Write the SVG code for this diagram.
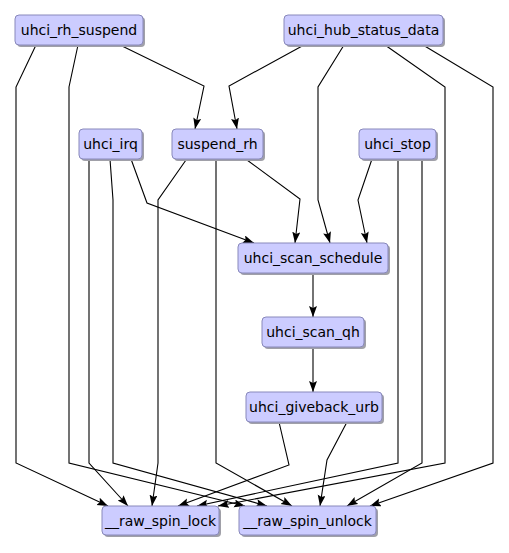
<svg xmlns="http://www.w3.org/2000/svg" width="509" height="553" viewBox="0 0 509 553">
<defs>
<style>
.sh{fill:#a0a0a8;stroke:none}
.bx{fill:#ccccff;stroke:#8888bb;stroke-width:1}
.t{font-family:"DejaVu Sans",sans-serif;font-size:14px;fill:#000;text-anchor:middle}
.e{fill:none;stroke:#000;stroke-width:1.1}
.a{marker-end:url(#ah)}
</style>
<marker id="ah" markerUnits="userSpaceOnUse" markerWidth="12" markerHeight="10" refX="11" refY="4" orient="auto">
<polygon points="0,0 11,4 0,8 2,4" fill="#000"/>
</marker>
</defs>
<rect width="509" height="553" fill="#fff"/>
<g id="connectors">
<polyline class="e a" points="36,45 16,87 16,463 108,506"/>
<polyline class="e a" points="78,45 69,87 69,463 245,506"/>
<polyline class="e a" points="120,45 204,86 195,129"/>
<polyline class="e a" points="304,45 229,86 237,129"/>
<polyline class="e a" points="344,45 318,87 318,200 330,243"/>
<polyline class="e a" points="385,45 445,87 445,463 218,506"/>
<polyline class="e a" points="423,45 493,87 493,463 370,506"/>
<polyline class="e a" points="89,159 89,463 128,506"/>
<polyline class="e a" points="110,159 113,200 113,463 267,506"/>
<polyline class="e a" points="131,159 147,203 254,243"/>
<polyline class="e a" points="186,160 158,200 158,463 152,506"/>
<polyline class="e a" points="216,160 216,463 292,506"/>
<polyline class="e a" points="247,160 300,199 295,243"/>
<polyline class="e a" points="372,159 358,200 367,243"/>
<polyline class="e a" points="398,159 398,463 197,506"/>
<polyline class="e a" points="422,159 422,463 347,506"/>
<polyline class="e a" points="313,273 313,317"/>
<polyline class="e a" points="313,347 313,392"/>
<polyline class="e a" points="279,422 289,465 178,506"/>
<polyline class="e a" points="347,422 327,460 320,506"/>
</g>
<g id="uhci_rh_suspend">
<rect class="sh" x="17" y="17" width="128" height="30" rx="4"/>
<rect class="bx" x="15" y="15" width="128" height="30" rx="4"/>
<text class="t" x="79" y="35">uhci_rh_suspend</text>
</g>
<g id="uhci_hub_status_data">
<rect class="sh" x="286" y="17" width="159" height="30" rx="4"/>
<rect class="bx" x="284" y="15" width="159" height="30" rx="4"/>
<text class="t" x="363.5" y="35">uhci_hub_status_data</text>
</g>
<g id="uhci_irq">
<rect class="sh" x="81" y="131" width="63" height="30" rx="4"/>
<rect class="bx" x="79" y="129" width="63" height="30" rx="4"/>
<text class="t" x="110.5" y="149">uhci_irq</text>
</g>
<g id="suspend_rh">
<rect class="sh" x="174" y="131" width="91" height="30" rx="4"/>
<rect class="bx" x="172" y="129" width="91" height="30" rx="4"/>
<text class="t" x="217.5" y="149">suspend_rh</text>
</g>
<g id="uhci_stop">
<rect class="sh" x="361" y="131" width="77" height="30" rx="4"/>
<rect class="bx" x="359" y="129" width="77" height="30" rx="4"/>
<text class="t" x="397.5" y="149">uhci_stop</text>
</g>
<g id="uhci_scan_schedule">
<rect class="sh" x="240" y="245" width="150" height="30" rx="4"/>
<rect class="bx" x="238" y="243" width="150" height="30" rx="4"/>
<text class="t" x="313" y="263">uhci_scan_schedule</text>
</g>
<g id="uhci_scan_qh">
<rect class="sh" x="264" y="319" width="102" height="30" rx="4"/>
<rect class="bx" x="262" y="317" width="102" height="30" rx="4"/>
<text class="t" x="313" y="337">uhci_scan_qh</text>
</g>
<g id="uhci_giveback_urb">
<rect class="sh" x="248" y="394" width="136" height="30" rx="4"/>
<rect class="bx" x="246" y="392" width="136" height="30" rx="4"/>
<text class="t" x="314" y="412">uhci_giveback_urb</text>
</g>
<g id="__raw_spin_lock">
<rect class="sh" x="104" y="508" width="117" height="29" rx="4"/>
<rect class="bx" x="102" y="506" width="117" height="29" rx="4"/>
<text class="t" x="160.5" y="525.5">__raw_spin_lock</text>
</g>
<g id="__raw_spin_unlock">
<rect class="sh" x="241" y="508" width="137" height="29" rx="4"/>
<rect class="bx" x="239" y="506" width="137" height="29" rx="4"/>
<text class="t" x="307.5" y="525.5">__raw_spin_unlock</text>
</g>
</svg>
